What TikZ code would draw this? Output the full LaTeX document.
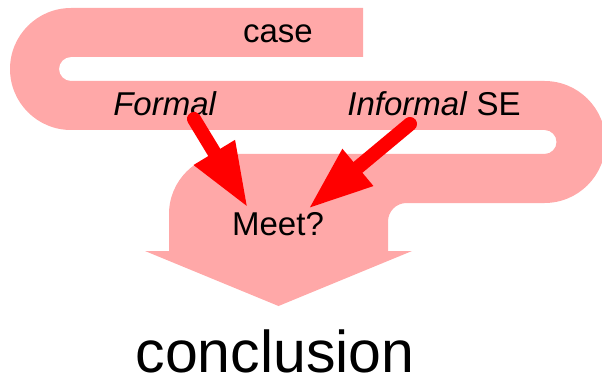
\documentclass[tikz,border=0pt]{standalone}
\usepackage{fontspec}
\setmainfont{Liberation Sans}
\usetikzlibrary{arrows.meta}
\definecolor{pinkband}{RGB}{255,168,168}
\definecolor{redarrow}{RGB}{255,0,0}
\tikzset{
  lbl/.style={inner sep=0pt, anchor=base, font=\fontsize{33}{40}\selectfont},
  bigl/.style={inner sep=0pt, anchor=base, font=\fontsize{59}{70}\selectfont},
  redarr/.style={draw=redarrow, line width=14pt, line cap=round,
    -{Triangle[length=65pt,width=44pt]}}
}
\begin{document}
\begin{tikzpicture}[x=1pt,y=1pt]
\useasboundingbox (0,0) rectangle (602,378);
% pink band with big arrow
\fill[pinkband] (363,370) -- (71,370)
  arc[start angle=90, end angle=270, radius=61pt]
  -- (544.5,248)
  arc[start angle=90, end angle=-90, radius=12pt]
  -- (229,224)
  arc[start angle=90, end angle=180, radius=60pt]
  -- (169,127) -- (145,127) -- (278.5,72) -- (412,127) -- (388,127)
  -- (388,156.5)
  arc[start angle=180, end angle=90, radius=18.5pt]
  -- (544.5,175)
  arc[start angle=-90, end angle=90, radius=61pt]
  -- (71,297)
  arc[start angle=-90, end angle=-270, radius=12pt]
  -- (363,321) -- cycle;
% texts
\node[lbl] (case) at (278,335) {case};
\node[lbl] (formal) at (165,262) {\textit{Formal}};
\node[lbl] (informal) at (434,262) {\textit{Informal} SE};
\node[lbl] (meet) at (278,143) {Meet?};
\node[bigl] (concl) at (275,6) {conclusion};
% red arrows
\coordinate (t1) at (194,259);
\coordinate (h1) at (248,170);
\coordinate (t2) at (410,254);
\coordinate (h2) at (308,169);
\draw[redarr] (t1) -- (h1);
\draw[redarr] (t2) -- (h2);
\end{tikzpicture}
\end{document}
